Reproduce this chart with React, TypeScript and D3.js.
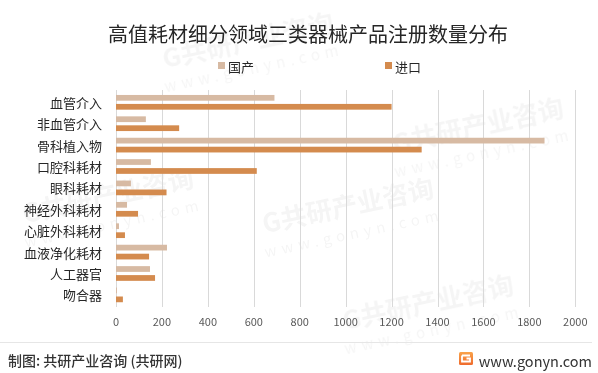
import React from 'react';
import * as d3 from 'd3';

const categories = ['血管介入', '非血管介入', '骨科植入物', '口腔科耗材', '眼科耗材', '神经外科耗材', '心脏外科耗材', '血液净化耗材', '人工器官', '吻合器'];
const domestic = [690, 130, 1866, 152, 65, 48, 13, 222, 148, 4];
const imported = [1200, 275, 1331, 613, 220, 96, 39, 144, 170, 30];
const seriesNames = ['国产', '进口'];
const seriesColors = ['#d7baa3', '#d48b4e'];
const xTicks = [0, 200, 400, 600, 800, 1000, 1200, 1400, 1600, 1800, 2000];
const titleText = '高值耗材细分领域三类器械产品注册数量分布';
const sourceText = '制图: 共研产业咨询 (共研网)';
const siteText = 'www.gonyn.com';

const W = 598;
const H = 373;
const FONT = '"Noto Sans CJK SC", "Microsoft YaHei", "Noto Sans", sans-serif';

const watermarks = [
  [250, 50], [350, 215], [480, 135], [110, 205], [430, 312],
];

export default function App() {
  const x = d3.scaleLinear().domain([0, 2000]).range([116, 575.3]);
  const y = d3.scaleBand<string>().domain(categories).range([91.6, 305.6]).paddingInner(0.313).paddingOuter(0.157);
  const inner = d3.scaleBand<string>().domain(seriesNames).range([0, y.bandwidth()]).paddingInner(0.36).paddingOuter(0);
  const values = [domestic, imported];

  return (
    <svg width={W} height={H} style={{ position: 'fixed', left: 0, top: 0, background: '#fff' }} fontFamily={FONT}>
      <rect x={0} y={0} width={W} height={H} fill="#fff" />
      {/* watermarks */}
      <g fill="#000" opacity={0.04} style={{ pointerEvents: 'none' }}>
        {watermarks.map(([cx, cy], i) => (
          <g key={i} transform={`translate(${cx},${cy}) rotate(-12)`}>
            <text x={0} y={0} textAnchor="middle" fontSize={26} fontWeight="bold">G共研产业咨询</text>
            <text x={0} y={24} textAnchor="middle" fontSize={15} letterSpacing={5}>www.gonyn.com</text>
          </g>
        ))}
      </g>

      <text x={308} y={33} textAnchor="middle" dominantBaseline="central" fontSize={20} fill="#262626">{titleText}</text>

      {seriesNames.map((s, i) => {
        const lx = i === 0 ? 218 : 385;
        return (
          <g key={s}>
            <rect x={lx} y={62} width={7} height={7} fill={seriesColors[i]} />
            <text x={lx + 10} y={66} dominantBaseline="central" fontSize={13} fill="#262626">{s}</text>
          </g>
        );
      })}

      {xTicks.map((t) => (
        <g key={t}>
          <line x1={Math.round(x(t)) + 0.5} x2={Math.round(x(t)) + 0.5} y1={90} y2={307} stroke="#d9d9d9" strokeWidth={1} />
          <text x={x(t)} y={321} textAnchor="middle" dominantBaseline="central" fontSize={11} fill="#595959">{t}</text>
        </g>
      ))}

      {categories.map((c, ci) => (
        <g key={c}>
          {seriesNames.map((s, si) => (
            <rect key={s} x={x(0)} y={(y(c) as number) + (inner(s) as number)} width={x(values[si][ci]) - x(0)} height={inner.bandwidth()} fill={seriesColors[si]} />
          ))}
          <text x={102} y={(y(c) as number) + y.bandwidth() / 2} textAnchor="end" dominantBaseline="central" fontSize={13} fill="#262626">{c}</text>
        </g>
      ))}

      <line x1={0} x2={592} y1={342.5} y2={342.5} stroke="#e6e6e6" strokeWidth={1} />
      <text x={8} y={360} dominantBaseline="central" fontSize={14} fontWeight={500} fill="#333">{sourceText}</text>
      <defs>
        <linearGradient id="logoGrad" x1="0" y1="0" x2="0" y2="1">
          <stop offset="0%" stopColor="#f9a34a" />
          <stop offset="100%" stopColor="#ef6a2d" />
        </linearGradient>
      </defs>
      <g transform="translate(459,352)">
        <rect x={0} y={0} width={14} height={13} rx={1.5} fill="url(#logoGrad)" />
        <path d="M3 3.5 H11 M3 3.5 V9.5 H11 V6.5 H7.5" stroke="#fff" strokeWidth={1.8} fill="none" />
      </g>
      <text x={592} y={360} textAnchor="end" dominantBaseline="central" fontSize={14.5} fill="#333">{siteText}</text>
    </svg>
  );
}
